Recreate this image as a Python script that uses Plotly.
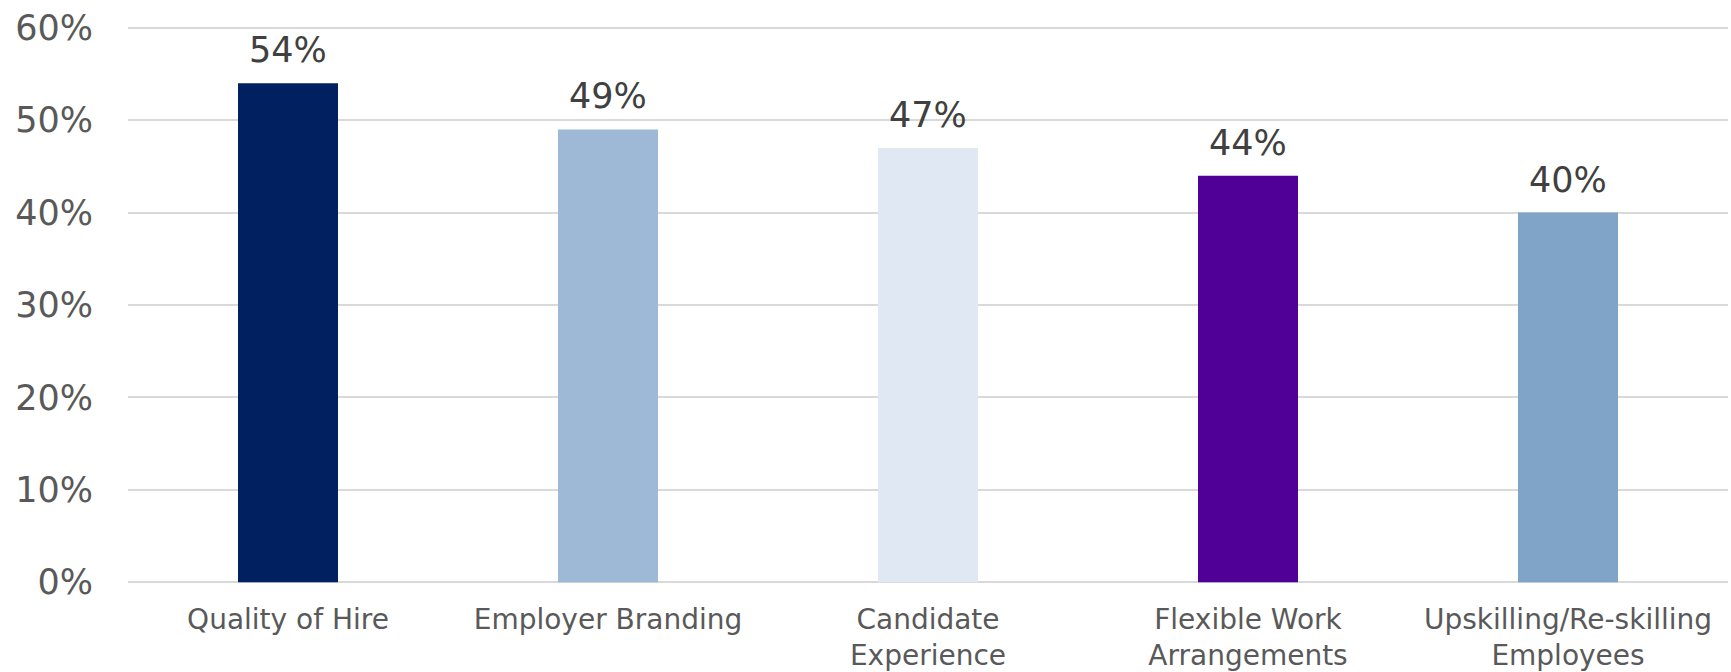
import plotly.graph_objects as go

categories = ["Quality of Hire", "Employer Branding", "Candidate<br>Experience",
              "Flexible Work<br>Arrangements", "Upskilling/Re-skilling<br>Employees"]
values = [54, 49, 47, 44, 40]
bar_colors = ["#002060", "#9DB9D5", "#E0E8F3", "#500096", "#7FA4C8"]
tick_vals = [0, 10, 20, 30, 40, 50, 60]
tick_text = [f"{v}%" for v in tick_vals]

FONT = "DejaVu Sans"

fig = go.Figure()

fig.add_trace(go.Bar(
    x=categories,
    y=values,
    marker=dict(color=bar_colors, line=dict(width=0)),
    hovertemplate="%{x}: %{y}%<extra></extra>",
))

# etiquetas de datos sobre las barras
for cat, val in zip(categories, values):
    fig.add_annotation(
        x=cat, y=val, text=f"{val}%",
        showarrow=False, yanchor="bottom", yshift=11,
        font=dict(family=FONT, size=35, color="#404040"),
    )

fig.update_layout(
    width=1731,
    height=672,
    margin=dict(l=128, r=3, t=26, b=88),
    paper_bgcolor="white",
    plot_bgcolor="white",
    bargap=0.6875,
    showlegend=False,
    font=dict(family=FONT, color="#595959"),
    xaxis=dict(
        tickfont=dict(family=FONT, size=28, color="#595959"),
        showline=False, showgrid=False, automargin=False,
        ticks="", ticklabelstandoff=16,
    ),
    yaxis=dict(
        # un poco de holgura para que plotly dibuje las líneas de 0% y 60%
        range=[-0.2, 60.2],
        tickvals=tick_vals,
        ticktext=tick_text,
        tickfont=dict(family=FONT, size=35, color="#595959"),
        showgrid=True, gridcolor="#D9D9D9", gridwidth=2,
        zeroline=False, showline=False, automargin=False,
        ticks="", ticklabelstandoff=34,
    ),
)

# quitar el margen por defecto del body
fig.write_html("out.html", config={"displayModeBar": False},
               post_script="document.body.style.margin='0';")
